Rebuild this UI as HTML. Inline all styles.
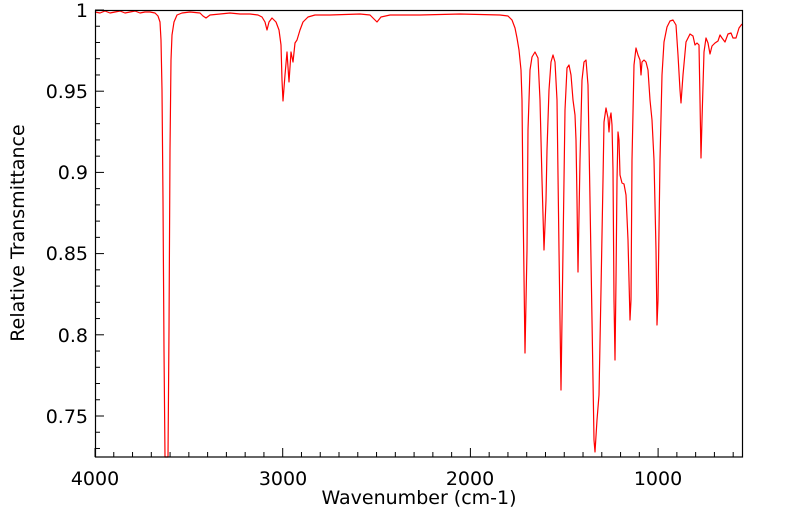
<!DOCTYPE html>
<html><head><meta charset="utf-8"><style>
body{margin:0;background:#fff;width:799px;height:516px;overflow:hidden}
text{font-family:"DejaVu Sans","Liberation Sans",sans-serif;fill:#000}
</style></head><body>
<svg width="799" height="516" viewBox="0 0 799 516" xmlns="http://www.w3.org/2000/svg">
<g id="ticks" stroke="#000" stroke-width="1"></g>
<polyline fill="none" stroke="#ff0000" stroke-width="1.2" stroke-linejoin="round" points="
95,12 100,13 105,11 110,13 115,12 120,11 125,13 130,12 135,11 140,13 145,12 150,12 155,13 158,16 160,22 161,40 162,90 163,200 164,350 165,457 168,457 169,330 170,150 171,60 172,35 174,22 177,15 182,13 190,12 200,13 203,16 206,18 210,15 220,14 230,13 240,14 250,14 258,15 262,17 265,22 267,30 269,22 272,18 276,22 279,30 281,45 282,80 283,101 285,75 287,52 289,82 291,52 293,62 295,43 297,40 300,30 303,22 308,17 315,15 330,15 360,14 370,15 374,19 377,22 381,17 390,15 420,15 460,14 500,15 508,16 512,20 515,28 517,38 519,50 521,70 522,100 523,200 525,353 527,250 528,130 530,70 532,57 535,52 538,58 540,100 542,180 544,250 546,200 547,150 549,90 551,62 553,55 555,62 557,100 559,250 561,390 563,250 565,110 567,68 569,65 571,75 573,100 575,115 576,140 577,200 578,272 580,160 582,80 584,62 586,60 588,85 590,200 592,320 594,440 595,452 597,420 599,395 601,290 603,180 604,122 606,108 608,118 609,132 610,118 611,113 612,125 613,170 614,300 615,360 616,280 617,180 618,132 619,140 620,175 622,183 624,184 626,195 628,240 630,320 631,300 632,160 634,65 636,48 638,55 640,60 641,75 642,62 644,60 646,62 648,70 650,100 652,120 654,160 656,250 657,325 658,300 660,160 662,75 664,42 667,27 670,21 673,20 676,25 678,55 680,90 681,103 683,75 686,42 690,34 693,36 695,45 697,43 699,45 700,100 701,158 702,120 704,52 706,38 708,43 710,54 712,46 715,43 718,41 720,35 722,38 725,42 728,34 731,33 733,38 736,38 739,28 742,24"/>
<rect x="95.5" y="10.5" width="647" height="446.5" fill="none" stroke="#000" stroke-width="1.2"/>
<g font-size="19">
<text x="95" y="485" text-anchor="middle">4000</text>
<text x="283" y="485" text-anchor="middle">3000</text>
<text x="470" y="485" text-anchor="middle">2000</text>
<text x="658" y="485" text-anchor="middle">1000</text>
<text x="88" y="17" text-anchor="end">1</text>
<text x="88" y="98" text-anchor="end">0.95</text>
<text x="88" y="179" text-anchor="end">0.9</text>
<text x="88" y="260" text-anchor="end">0.85</text>
<text x="88" y="342" text-anchor="end">0.8</text>
<text x="88" y="423" text-anchor="end">0.75</text>
<text x="419" y="504" text-anchor="middle">Wavenumber (cm-1)</text>
<text transform="translate(24,233) rotate(-90)" text-anchor="middle">Relative Transmittance</text>
</g>
</svg>
<script>
var g=document.getElementById('ticks'),s='';
for(var w=4000;w>=560;w-=100){var x=95+(4000-w)*0.1877;var L=(w%1000==0)?9:5;s+='<line x1="'+x+'" y1="457" x2="'+x+'" y2="'+(457-L)+'"/>';}
for(var i=0;i<=27;i++){var v=1-i*0.01;var y=10+i*16.24;var L=(i%5==0)?9:5;s+='<line x1="95" y1="'+y+'" x2="'+(95+L)+'" y2="'+y+'"/>';}
g.innerHTML=s;
</script>
</body></html>
